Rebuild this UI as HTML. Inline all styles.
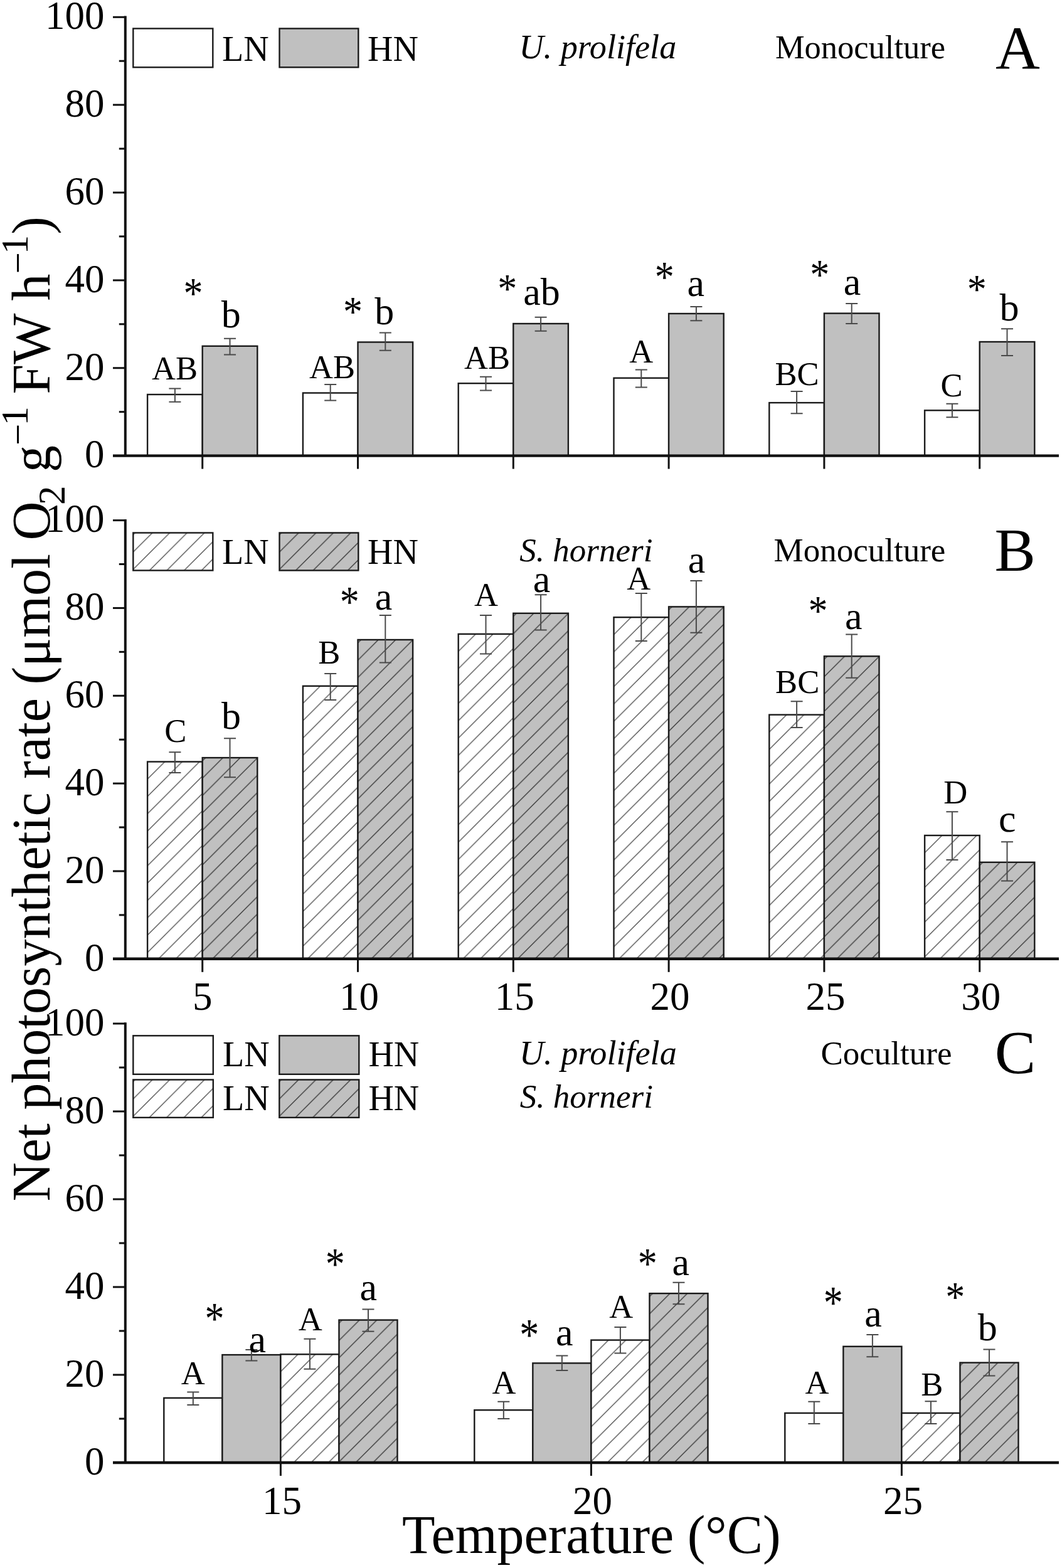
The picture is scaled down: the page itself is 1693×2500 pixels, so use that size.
<!DOCTYPE html>
<html><head><meta charset="utf-8"><title>Net photosynthetic rate</title><style>html,body{margin:0;padding:0;background:#fff;}svg{display:block;}</style></head><body>
<svg width="1693" height="2500" viewBox="0 0 1693 2500" font-family='"Liberation Serif", "Times New Roman", serif'>
<defs>
<pattern id="p0" patternUnits="userSpaceOnUse" x="235.10" y="1214.50" width="27.65" height="27.65"><rect width="27.65" height="27.65" fill="#fff"/><path d="M-2 29.65L29.65 -2M-2 2L2 -2M25.65 29.65L29.65 25.65" stroke="#4a4a4a" stroke-width="1.35"/></pattern>
<pattern id="p1" patternUnits="userSpaceOnUse" x="327.70" y="1208.10" width="27.65" height="27.65"><rect width="27.65" height="27.65" fill="#c0c0c0"/><path d="M-2 29.65L29.65 -2M-2 2L2 -2M25.65 29.65L29.65 25.65" stroke="#333" stroke-width="1.35"/></pattern>
<pattern id="p2" patternUnits="userSpaceOnUse" x="482.90" y="1093.80" width="27.65" height="27.65"><rect width="27.65" height="27.65" fill="#fff"/><path d="M-2 29.65L29.65 -2M-2 2L2 -2M25.65 29.65L29.65 25.65" stroke="#4a4a4a" stroke-width="1.35"/></pattern>
<pattern id="p3" patternUnits="userSpaceOnUse" x="575.50" y="1020.00" width="27.65" height="27.65"><rect width="27.65" height="27.65" fill="#c0c0c0"/><path d="M-2 29.65L29.65 -2M-2 2L2 -2M25.65 29.65L29.65 25.65" stroke="#333" stroke-width="1.35"/></pattern>
<pattern id="p4" patternUnits="userSpaceOnUse" x="730.70" y="1010.90" width="27.65" height="27.65"><rect width="27.65" height="27.65" fill="#fff"/><path d="M-2 29.65L29.65 -2M-2 2L2 -2M25.65 29.65L29.65 25.65" stroke="#4a4a4a" stroke-width="1.35"/></pattern>
<pattern id="p5" patternUnits="userSpaceOnUse" x="823.30" y="977.80" width="27.65" height="27.65"><rect width="27.65" height="27.65" fill="#c0c0c0"/><path d="M-2 29.65L29.65 -2M-2 2L2 -2M25.65 29.65L29.65 25.65" stroke="#333" stroke-width="1.35"/></pattern>
<pattern id="p6" patternUnits="userSpaceOnUse" x="978.50" y="984.20" width="27.65" height="27.65"><rect width="27.65" height="27.65" fill="#fff"/><path d="M-2 29.65L29.65 -2M-2 2L2 -2M25.65 29.65L29.65 25.65" stroke="#4a4a4a" stroke-width="1.35"/></pattern>
<pattern id="p7" patternUnits="userSpaceOnUse" x="1071.10" y="967.40" width="27.65" height="27.65"><rect width="27.65" height="27.65" fill="#c0c0c0"/><path d="M-2 29.65L29.65 -2M-2 2L2 -2M25.65 29.65L29.65 25.65" stroke="#333" stroke-width="1.35"/></pattern>
<pattern id="p8" patternUnits="userSpaceOnUse" x="1226.30" y="1139.60" width="27.65" height="27.65"><rect width="27.65" height="27.65" fill="#fff"/><path d="M-2 29.65L29.65 -2M-2 2L2 -2M25.65 29.65L29.65 25.65" stroke="#4a4a4a" stroke-width="1.35"/></pattern>
<pattern id="p9" patternUnits="userSpaceOnUse" x="1318.90" y="1046.30" width="27.65" height="27.65"><rect width="27.65" height="27.65" fill="#c0c0c0"/><path d="M-2 29.65L29.65 -2M-2 2L2 -2M25.65 29.65L29.65 25.65" stroke="#333" stroke-width="1.35"/></pattern>
<pattern id="p10" patternUnits="userSpaceOnUse" x="1474.10" y="1332.00" width="27.65" height="27.65"><rect width="27.65" height="27.65" fill="#fff"/><path d="M-2 29.65L29.65 -2M-2 2L2 -2M25.65 29.65L29.65 25.65" stroke="#4a4a4a" stroke-width="1.35"/></pattern>
<pattern id="p11" patternUnits="userSpaceOnUse" x="1566.70" y="1374.80" width="27.65" height="27.65"><rect width="27.65" height="27.65" fill="#c0c0c0"/><path d="M-2 29.65L29.65 -2M-2 2L2 -2M25.65 29.65L29.65 25.65" stroke="#333" stroke-width="1.35"/></pattern>
<pattern id="p12" patternUnits="userSpaceOnUse" x="447.40" y="2159.30" width="27.65" height="27.65"><rect width="27.65" height="27.65" fill="#fff"/><path d="M-2 29.65L29.65 -2M-2 2L2 -2M25.65 29.65L29.65 25.65" stroke="#4a4a4a" stroke-width="1.35"/></pattern>
<pattern id="p13" patternUnits="userSpaceOnUse" x="545.45" y="2104.60" width="27.65" height="27.65"><rect width="27.65" height="27.65" fill="#c0c0c0"/><path d="M-2 29.65L29.65 -2M-2 2L2 -2M25.65 29.65L29.65 25.65" stroke="#333" stroke-width="1.35"/></pattern>
<pattern id="p14" patternUnits="userSpaceOnUse" x="942.40" y="2136.60" width="27.65" height="27.65"><rect width="27.65" height="27.65" fill="#fff"/><path d="M-2 29.65L29.65 -2M-2 2L2 -2M25.65 29.65L29.65 25.65" stroke="#4a4a4a" stroke-width="1.35"/></pattern>
<pattern id="p15" patternUnits="userSpaceOnUse" x="1040.45" y="2062.20" width="27.65" height="27.65"><rect width="27.65" height="27.65" fill="#c0c0c0"/><path d="M-2 29.65L29.65 -2M-2 2L2 -2M25.65 29.65L29.65 25.65" stroke="#333" stroke-width="1.35"/></pattern>
<pattern id="p16" patternUnits="userSpaceOnUse" x="1437.40" y="2253.00" width="27.65" height="27.65"><rect width="27.65" height="27.65" fill="#fff"/><path d="M-2 29.65L29.65 -2M-2 2L2 -2M25.65 29.65L29.65 25.65" stroke="#4a4a4a" stroke-width="1.35"/></pattern>
<pattern id="p17" patternUnits="userSpaceOnUse" x="1535.45" y="2172.60" width="27.65" height="27.65"><rect width="27.65" height="27.65" fill="#c0c0c0"/><path d="M-2 29.65L29.65 -2M-2 2L2 -2M25.65 29.65L29.65 25.65" stroke="#333" stroke-width="1.35"/></pattern>
<pattern id="p18" patternUnits="userSpaceOnUse" x="215.30" y="849.50" width="27.65" height="27.65"><rect width="27.65" height="27.65" fill="#fff"/><path d="M-2 29.65L29.65 -2M-2 2L2 -2M25.65 29.65L29.65 25.65" stroke="#4a4a4a" stroke-width="1.35"/></pattern>
<pattern id="p19" patternUnits="userSpaceOnUse" x="448.50" y="849.50" width="27.65" height="27.65"><rect width="27.65" height="27.65" fill="#c0c0c0"/><path d="M-2 29.65L29.65 -2M-2 2L2 -2M25.65 29.65L29.65 25.65" stroke="#333" stroke-width="1.35"/></pattern>
<pattern id="p20" patternUnits="userSpaceOnUse" x="215.30" y="1721.50" width="27.65" height="27.65"><rect width="27.65" height="27.65" fill="#fff"/><path d="M-2 29.65L29.65 -2M-2 2L2 -2M25.65 29.65L29.65 25.65" stroke="#4a4a4a" stroke-width="1.35"/></pattern>
<pattern id="p21" patternUnits="userSpaceOnUse" x="448.30" y="1721.50" width="27.65" height="27.65"><rect width="27.65" height="27.65" fill="#c0c0c0"/><path d="M-2 29.65L29.65 -2M-2 2L2 -2M25.65 29.65L29.65 25.65" stroke="#333" stroke-width="1.35"/></pattern>
</defs>
<rect width="1693" height="2500" fill="#fff"/>
<rect x="235.10" y="629.00" width="87.60" height="97.60" fill="#fff" stroke="#1a1a1a" stroke-width="2.4"/>
<rect x="322.70" y="551.80" width="87.60" height="174.80" fill="#c0c0c0" stroke="#1a1a1a" stroke-width="2.4"/>
<rect x="482.90" y="626.50" width="87.60" height="100.10" fill="#fff" stroke="#1a1a1a" stroke-width="2.4"/>
<rect x="570.50" y="545.50" width="87.60" height="181.10" fill="#c0c0c0" stroke="#1a1a1a" stroke-width="2.4"/>
<rect x="730.70" y="611.20" width="87.60" height="115.40" fill="#fff" stroke="#1a1a1a" stroke-width="2.4"/>
<rect x="818.30" y="516.00" width="87.60" height="210.60" fill="#c0c0c0" stroke="#1a1a1a" stroke-width="2.4"/>
<rect x="978.50" y="602.70" width="87.60" height="123.90" fill="#fff" stroke="#1a1a1a" stroke-width="2.4"/>
<rect x="1066.10" y="500.00" width="87.60" height="226.60" fill="#c0c0c0" stroke="#1a1a1a" stroke-width="2.4"/>
<rect x="1226.30" y="642.10" width="87.60" height="84.50" fill="#fff" stroke="#1a1a1a" stroke-width="2.4"/>
<rect x="1313.90" y="499.60" width="87.60" height="227.00" fill="#c0c0c0" stroke="#1a1a1a" stroke-width="2.4"/>
<rect x="1474.10" y="654.30" width="87.60" height="72.30" fill="#fff" stroke="#1a1a1a" stroke-width="2.4"/>
<rect x="1561.70" y="545.00" width="87.60" height="181.60" fill="#c0c0c0" stroke="#1a1a1a" stroke-width="2.4"/>
<path d="M269.40 619.50H288.40M278.90 619.50V640.80M269.40 640.80H288.40" stroke="#4a4a4a" stroke-width="2.0" fill="none"/>
<path d="M357.00 539.80H376.00M366.50 539.80V565.50M357.00 565.50H376.00" stroke="#4a4a4a" stroke-width="2.0" fill="none"/>
<path d="M517.20 613.10H536.20M526.70 613.10V638.60M517.20 638.60H536.20" stroke="#4a4a4a" stroke-width="2.0" fill="none"/>
<path d="M604.80 530.50H623.80M614.30 530.50V558.80M604.80 558.80H623.80" stroke="#4a4a4a" stroke-width="2.0" fill="none"/>
<path d="M765.00 600.80H784.00M774.50 600.80V622.40M765.00 622.40H784.00" stroke="#4a4a4a" stroke-width="2.0" fill="none"/>
<path d="M852.60 505.80H871.60M862.10 505.80V527.70M852.60 527.70H871.60" stroke="#4a4a4a" stroke-width="2.0" fill="none"/>
<path d="M1012.80 589.60H1031.80M1022.30 589.60V617.60M1012.80 617.60H1031.80" stroke="#4a4a4a" stroke-width="2.0" fill="none"/>
<path d="M1100.40 489.00H1119.40M1109.90 489.00V511.20M1100.40 511.20H1119.40" stroke="#4a4a4a" stroke-width="2.0" fill="none"/>
<path d="M1260.60 623.90H1279.60M1270.10 623.90V659.30M1260.60 659.30H1279.60" stroke="#4a4a4a" stroke-width="2.0" fill="none"/>
<path d="M1348.20 483.90H1367.20M1357.70 483.90V515.90M1348.20 515.90H1367.20" stroke="#4a4a4a" stroke-width="2.0" fill="none"/>
<path d="M1508.40 643.70H1527.40M1517.90 643.70V665.30M1508.40 665.30H1527.40" stroke="#4a4a4a" stroke-width="2.0" fill="none"/>
<path d="M1596.00 524.30H1615.00M1605.50 524.30V566.90M1596.00 566.90H1615.00" stroke="#4a4a4a" stroke-width="2.0" fill="none"/>
<text x="278.55" y="605.20" text-anchor="middle" font-size="52.6">AB</text>
<text x="368.25" y="522.30" text-anchor="middle" font-size="62">b</text>
<text x="529.45" y="602.70" text-anchor="middle" font-size="52.6">AB</text>
<text x="612.70" y="516.90" text-anchor="middle" font-size="62">b</text>
<text x="776.60" y="588.00" text-anchor="middle" font-size="52.6">AB</text>
<text x="863.50" y="486.40" text-anchor="middle" font-size="62">ab</text>
<text x="1022.35" y="578.00" text-anchor="middle" font-size="52.6">A</text>
<text x="1109.35" y="471.50" text-anchor="middle" font-size="62">a</text>
<text x="1270.55" y="613.90" text-anchor="middle" font-size="52.6">BC</text>
<text x="1358.40" y="469.50" text-anchor="middle" font-size="62">a</text>
<text x="1517.00" y="631.80" text-anchor="middle" font-size="52.6">C</text>
<text x="1609.10" y="511.20" text-anchor="middle" font-size="62">b</text>
<text transform="translate(308.00 490.73) scale(1 1.116)" text-anchor="middle" font-size="62">*</text>
<text transform="translate(562.45 518.86) scale(1 1.090)" text-anchor="middle" font-size="62">*</text>
<text transform="translate(808.80 482.18) scale(1 1.046)" text-anchor="middle" font-size="62">*</text>
<text transform="translate(1059.30 464.51) scale(1 1.121)" text-anchor="middle" font-size="62">*</text>
<text transform="translate(1306.80 459.62) scale(1 1.099)" text-anchor="middle" font-size="62">*</text>
<text transform="translate(1557.35 483.11) scale(1 1.059)" text-anchor="middle" font-size="62">*</text>
<line x1="199.8" y1="25.60" x2="199.8" y2="726.60" stroke="#111" stroke-width="4.0"/>
<line x1="180" y1="726.60" x2="199.8" y2="726.60" stroke="#111" stroke-width="3.0"/>
<text x="166.5" y="745.40" text-anchor="end" font-size="63">0</text>
<line x1="189.8" y1="656.67" x2="199.8" y2="656.67" stroke="#111" stroke-width="3.0"/>
<line x1="180" y1="586.74" x2="199.8" y2="586.74" stroke="#111" stroke-width="3.0"/>
<text x="166.5" y="605.54" text-anchor="end" font-size="63">20</text>
<line x1="189.8" y1="516.81" x2="199.8" y2="516.81" stroke="#111" stroke-width="3.0"/>
<line x1="180" y1="446.88" x2="199.8" y2="446.88" stroke="#111" stroke-width="3.0"/>
<text x="166.5" y="465.68" text-anchor="end" font-size="63">40</text>
<line x1="189.8" y1="376.95" x2="199.8" y2="376.95" stroke="#111" stroke-width="3.0"/>
<line x1="180" y1="307.02" x2="199.8" y2="307.02" stroke="#111" stroke-width="3.0"/>
<text x="166.5" y="325.82" text-anchor="end" font-size="63">60</text>
<line x1="189.8" y1="237.09" x2="199.8" y2="237.09" stroke="#111" stroke-width="3.0"/>
<line x1="180" y1="167.16" x2="199.8" y2="167.16" stroke="#111" stroke-width="3.0"/>
<text x="166.5" y="185.96" text-anchor="end" font-size="63">80</text>
<line x1="189.8" y1="97.23" x2="199.8" y2="97.23" stroke="#111" stroke-width="3.0"/>
<line x1="180" y1="27.30" x2="199.8" y2="27.30" stroke="#111" stroke-width="3.0"/>
<text x="166.5" y="46.10" text-anchor="end" font-size="63">100</text>
<line x1="180" y1="726.60" x2="1688" y2="726.60" stroke="#111" stroke-width="4.4"/>
<line x1="322.70" y1="726.60" x2="322.70" y2="747.60" stroke="#111" stroke-width="3.0"/>
<line x1="570.50" y1="726.60" x2="570.50" y2="747.60" stroke="#111" stroke-width="3.0"/>
<line x1="818.30" y1="726.60" x2="818.30" y2="747.60" stroke="#111" stroke-width="3.0"/>
<line x1="1066.10" y1="726.60" x2="1066.10" y2="747.60" stroke="#111" stroke-width="3.0"/>
<line x1="1313.90" y1="726.60" x2="1313.90" y2="747.60" stroke="#111" stroke-width="3.0"/>
<line x1="1561.70" y1="726.60" x2="1561.70" y2="747.60" stroke="#111" stroke-width="3.0"/>
<rect x="235.10" y="1214.50" width="87.60" height="314.30" fill="url(#p0)" stroke="#1a1a1a" stroke-width="2.4"/>
<rect x="322.70" y="1208.10" width="87.60" height="320.70" fill="url(#p1)" stroke="#1a1a1a" stroke-width="2.4"/>
<rect x="482.90" y="1093.80" width="87.60" height="435.00" fill="url(#p2)" stroke="#1a1a1a" stroke-width="2.4"/>
<rect x="570.50" y="1020.00" width="87.60" height="508.80" fill="url(#p3)" stroke="#1a1a1a" stroke-width="2.4"/>
<rect x="730.70" y="1010.90" width="87.60" height="517.90" fill="url(#p4)" stroke="#1a1a1a" stroke-width="2.4"/>
<rect x="818.30" y="977.80" width="87.60" height="551.00" fill="url(#p5)" stroke="#1a1a1a" stroke-width="2.4"/>
<rect x="978.50" y="984.20" width="87.60" height="544.60" fill="url(#p6)" stroke="#1a1a1a" stroke-width="2.4"/>
<rect x="1066.10" y="967.40" width="87.60" height="561.40" fill="url(#p7)" stroke="#1a1a1a" stroke-width="2.4"/>
<rect x="1226.30" y="1139.60" width="87.60" height="389.20" fill="url(#p8)" stroke="#1a1a1a" stroke-width="2.4"/>
<rect x="1313.90" y="1046.30" width="87.60" height="482.50" fill="url(#p9)" stroke="#1a1a1a" stroke-width="2.4"/>
<rect x="1474.10" y="1332.00" width="87.60" height="196.80" fill="url(#p10)" stroke="#1a1a1a" stroke-width="2.4"/>
<rect x="1561.70" y="1374.80" width="87.60" height="154.00" fill="url(#p11)" stroke="#1a1a1a" stroke-width="2.4"/>
<path d="M269.40 1199.20H288.40M278.90 1199.20V1232.00M269.40 1232.00H288.40" stroke="#4a4a4a" stroke-width="2.0" fill="none"/>
<path d="M357.00 1177.30H376.00M366.50 1177.30V1239.30M357.00 1239.30H376.00" stroke="#4a4a4a" stroke-width="2.0" fill="none"/>
<path d="M517.20 1074.00H536.20M526.70 1074.00V1116.00M517.20 1116.00H536.20" stroke="#4a4a4a" stroke-width="2.0" fill="none"/>
<path d="M604.80 981.00H623.80M614.30 981.00V1056.60M604.80 1056.60H623.80" stroke="#4a4a4a" stroke-width="2.0" fill="none"/>
<path d="M765.00 981.00H784.00M774.50 981.00V1042.60M765.00 1042.60H784.00" stroke="#4a4a4a" stroke-width="2.0" fill="none"/>
<path d="M852.60 948.30H871.60M862.10 948.30V1004.50M852.60 1004.50H871.60" stroke="#4a4a4a" stroke-width="2.0" fill="none"/>
<path d="M1012.80 946.10H1031.80M1022.30 946.10V1022.00M1012.80 1022.00H1031.80" stroke="#4a4a4a" stroke-width="2.0" fill="none"/>
<path d="M1100.40 926.00H1119.40M1109.90 926.00V1008.70M1100.40 1008.70H1119.40" stroke="#4a4a4a" stroke-width="2.0" fill="none"/>
<path d="M1260.60 1118.30H1279.60M1270.10 1118.30V1160.00M1260.60 1160.00H1279.60" stroke="#4a4a4a" stroke-width="2.0" fill="none"/>
<path d="M1348.20 1011.50H1367.20M1357.70 1011.50V1080.70M1348.20 1080.70H1367.20" stroke="#4a4a4a" stroke-width="2.0" fill="none"/>
<path d="M1508.40 1294.30H1527.40M1517.90 1294.30V1370.90M1508.40 1370.90H1527.40" stroke="#4a4a4a" stroke-width="2.0" fill="none"/>
<path d="M1596.00 1342.20H1615.00M1605.50 1342.20V1404.40M1596.00 1404.40H1615.00" stroke="#4a4a4a" stroke-width="2.0" fill="none"/>
<text x="279.80" y="1182.70" text-anchor="middle" font-size="52.6">C</text>
<text x="368.55" y="1162.00" text-anchor="middle" font-size="62">b</text>
<text x="524.70" y="1057.90" text-anchor="middle" font-size="52.6">B</text>
<text x="611.55" y="971.50" text-anchor="middle" font-size="62">a</text>
<text x="775.00" y="965.80" text-anchor="middle" font-size="52.6">A</text>
<text x="863.50" y="943.50" text-anchor="middle" font-size="62">a</text>
<text x="1018.35" y="940.40" text-anchor="middle" font-size="52.6">A</text>
<text x="1110.45" y="913.40" text-anchor="middle" font-size="62">a</text>
<text x="1271.20" y="1105.10" text-anchor="middle" font-size="52.6">BC</text>
<text x="1360.75" y="1003.40" text-anchor="middle" font-size="62">a</text>
<text x="1523.30" y="1280.50" text-anchor="middle" font-size="52.6">D</text>
<text x="1605.70" y="1326.00" text-anchor="middle" font-size="62">c</text>
<text transform="translate(557.35 982.83) scale(1 1.116)" text-anchor="middle" font-size="62">*</text>
<text transform="translate(1304.10 996.32) scale(1 1.099)" text-anchor="middle" font-size="62">*</text>
<line x1="199.8" y1="827.90" x2="199.8" y2="1528.80" stroke="#111" stroke-width="4.0"/>
<line x1="180" y1="1528.80" x2="199.8" y2="1528.80" stroke="#111" stroke-width="3.0"/>
<text x="166.5" y="1547.60" text-anchor="end" font-size="63">0</text>
<line x1="189.8" y1="1458.88" x2="199.8" y2="1458.88" stroke="#111" stroke-width="3.0"/>
<line x1="180" y1="1388.96" x2="199.8" y2="1388.96" stroke="#111" stroke-width="3.0"/>
<text x="166.5" y="1407.76" text-anchor="end" font-size="63">20</text>
<line x1="189.8" y1="1319.04" x2="199.8" y2="1319.04" stroke="#111" stroke-width="3.0"/>
<line x1="180" y1="1249.12" x2="199.8" y2="1249.12" stroke="#111" stroke-width="3.0"/>
<text x="166.5" y="1267.92" text-anchor="end" font-size="63">40</text>
<line x1="189.8" y1="1179.20" x2="199.8" y2="1179.20" stroke="#111" stroke-width="3.0"/>
<line x1="180" y1="1109.28" x2="199.8" y2="1109.28" stroke="#111" stroke-width="3.0"/>
<text x="166.5" y="1128.08" text-anchor="end" font-size="63">60</text>
<line x1="189.8" y1="1039.36" x2="199.8" y2="1039.36" stroke="#111" stroke-width="3.0"/>
<line x1="180" y1="969.44" x2="199.8" y2="969.44" stroke="#111" stroke-width="3.0"/>
<text x="166.5" y="988.24" text-anchor="end" font-size="63">80</text>
<line x1="189.8" y1="899.52" x2="199.8" y2="899.52" stroke="#111" stroke-width="3.0"/>
<line x1="180" y1="829.60" x2="199.8" y2="829.60" stroke="#111" stroke-width="3.0"/>
<text x="166.5" y="848.40" text-anchor="end" font-size="63">100</text>
<line x1="180" y1="1528.80" x2="1688" y2="1528.80" stroke="#111" stroke-width="4.4"/>
<line x1="322.70" y1="1528.80" x2="322.70" y2="1549.80" stroke="#111" stroke-width="3.0"/>
<line x1="570.50" y1="1528.80" x2="570.50" y2="1549.80" stroke="#111" stroke-width="3.0"/>
<line x1="818.30" y1="1528.80" x2="818.30" y2="1549.80" stroke="#111" stroke-width="3.0"/>
<line x1="1066.10" y1="1528.80" x2="1066.10" y2="1549.80" stroke="#111" stroke-width="3.0"/>
<line x1="1313.90" y1="1528.80" x2="1313.90" y2="1549.80" stroke="#111" stroke-width="3.0"/>
<line x1="1561.70" y1="1528.80" x2="1561.70" y2="1549.80" stroke="#111" stroke-width="3.0"/>
<text x="322.70" y="1610" text-anchor="middle" font-size="63">5</text>
<text x="572.50" y="1610" text-anchor="middle" font-size="63">10</text>
<text x="820.30" y="1610" text-anchor="middle" font-size="63">15</text>
<text x="1068.10" y="1610" text-anchor="middle" font-size="63">20</text>
<text x="1315.90" y="1610" text-anchor="middle" font-size="63">25</text>
<text x="1563.70" y="1610" text-anchor="middle" font-size="63">30</text>
<rect x="261.30" y="2228.90" width="93.05" height="103.10" fill="#fff" stroke="#1a1a1a" stroke-width="2.4"/>
<rect x="354.35" y="2160.10" width="93.05" height="171.90" fill="#c0c0c0" stroke="#1a1a1a" stroke-width="2.4"/>
<rect x="447.40" y="2159.30" width="93.05" height="172.70" fill="url(#p12)" stroke="#1a1a1a" stroke-width="2.4"/>
<rect x="540.45" y="2104.60" width="93.05" height="227.40" fill="url(#p13)" stroke="#1a1a1a" stroke-width="2.4"/>
<rect x="756.30" y="2248.20" width="93.05" height="83.80" fill="#fff" stroke="#1a1a1a" stroke-width="2.4"/>
<rect x="849.35" y="2173.40" width="93.05" height="158.60" fill="#c0c0c0" stroke="#1a1a1a" stroke-width="2.4"/>
<rect x="942.40" y="2136.60" width="93.05" height="195.40" fill="url(#p14)" stroke="#1a1a1a" stroke-width="2.4"/>
<rect x="1035.45" y="2062.20" width="93.05" height="269.80" fill="url(#p15)" stroke="#1a1a1a" stroke-width="2.4"/>
<rect x="1251.30" y="2253.00" width="93.05" height="79.00" fill="#fff" stroke="#1a1a1a" stroke-width="2.4"/>
<rect x="1344.35" y="2146.80" width="93.05" height="185.20" fill="#c0c0c0" stroke="#1a1a1a" stroke-width="2.4"/>
<rect x="1437.40" y="2253.00" width="93.05" height="79.00" fill="url(#p16)" stroke="#1a1a1a" stroke-width="2.4"/>
<rect x="1530.45" y="2172.60" width="93.05" height="159.40" fill="url(#p17)" stroke="#1a1a1a" stroke-width="2.4"/>
<path d="M298.32 2219.60H317.32M307.82 2219.60V2240.10M298.32 2240.10H317.32" stroke="#4a4a4a" stroke-width="2.0" fill="none"/>
<path d="M391.37 2152.00H410.37M400.87 2152.00V2169.40M391.37 2169.40H410.37" stroke="#4a4a4a" stroke-width="2.0" fill="none"/>
<path d="M484.42 2134.70H503.42M493.92 2134.70V2182.80M484.42 2182.80H503.42" stroke="#4a4a4a" stroke-width="2.0" fill="none"/>
<path d="M577.47 2087.50H596.47M586.97 2087.50V2122.70M577.47 2122.70H596.47" stroke="#4a4a4a" stroke-width="2.0" fill="none"/>
<path d="M793.32 2234.80H812.32M802.82 2234.80V2262.00M793.32 2262.00H812.32" stroke="#4a4a4a" stroke-width="2.0" fill="none"/>
<path d="M886.38 2161.40H905.38M895.88 2161.40V2184.90M886.38 2184.90H905.38" stroke="#4a4a4a" stroke-width="2.0" fill="none"/>
<path d="M979.42 2116.10H998.42M988.92 2116.10V2157.40M979.42 2157.40H998.42" stroke="#4a4a4a" stroke-width="2.0" fill="none"/>
<path d="M1072.48 2044.80H1091.48M1081.98 2044.80V2079.30M1072.48 2079.30H1091.48" stroke="#4a4a4a" stroke-width="2.0" fill="none"/>
<path d="M1288.33 2234.80H1307.33M1297.83 2234.80V2270.00M1288.33 2270.00H1307.33" stroke="#4a4a4a" stroke-width="2.0" fill="none"/>
<path d="M1381.38 2128.10H1400.38M1390.88 2128.10V2163.30M1381.38 2163.30H1400.38" stroke="#4a4a4a" stroke-width="2.0" fill="none"/>
<path d="M1474.43 2234.30H1493.43M1483.93 2234.30V2270.00M1474.43 2270.00H1493.43" stroke="#4a4a4a" stroke-width="2.0" fill="none"/>
<path d="M1567.48 2151.60H1586.48M1576.98 2151.60V2193.50M1567.48 2193.50H1586.48" stroke="#4a4a4a" stroke-width="2.0" fill="none"/>
<text x="307.65" y="2206.80" text-anchor="middle" font-size="52.6">A</text>
<text x="410.15" y="2156.10" text-anchor="middle" font-size="62">a</text>
<text x="494.85" y="2120.60" text-anchor="middle" font-size="52.6">A</text>
<text x="587.15" y="2072.60" text-anchor="middle" font-size="62">a</text>
<text x="803.40" y="2221.50" text-anchor="middle" font-size="52.6">A</text>
<text x="899.85" y="2145.40" text-anchor="middle" font-size="62">a</text>
<text x="990.20" y="2101.40" text-anchor="middle" font-size="52.6">A</text>
<text x="1085.30" y="2033.40" text-anchor="middle" font-size="62">a</text>
<text x="1302.60" y="2222.00" text-anchor="middle" font-size="52.6">A</text>
<text x="1392.10" y="2115.30" text-anchor="middle" font-size="62">a</text>
<text x="1485.75" y="2224.70" text-anchor="middle" font-size="52.6">B</text>
<text x="1574.20" y="2136.60" text-anchor="middle" font-size="62">b</text>
<text transform="translate(342.05 2126.35) scale(1 1.173)" text-anchor="middle" font-size="62">*</text>
<text transform="translate(534.15 2039.44) scale(1 1.156)" text-anchor="middle" font-size="62">*</text>
<text transform="translate(843.80 2151.75) scale(1 1.173)" text-anchor="middle" font-size="62">*</text>
<text transform="translate(1032.15 2037.72) scale(1 1.138)" text-anchor="middle" font-size="62">*</text>
<text transform="translate(1328.30 2101.94) scale(1 1.195)" text-anchor="middle" font-size="62">*</text>
<text transform="translate(1522.80 2089.60) scale(1 1.103)" text-anchor="middle" font-size="62">*</text>
<line x1="199.8" y1="1630.30" x2="199.8" y2="2332.00" stroke="#111" stroke-width="4.0"/>
<line x1="180" y1="2332.00" x2="199.8" y2="2332.00" stroke="#111" stroke-width="3.0"/>
<text x="166.5" y="2350.80" text-anchor="end" font-size="63">0</text>
<line x1="189.8" y1="2262.00" x2="199.8" y2="2262.00" stroke="#111" stroke-width="3.0"/>
<line x1="180" y1="2192.00" x2="199.8" y2="2192.00" stroke="#111" stroke-width="3.0"/>
<text x="166.5" y="2210.80" text-anchor="end" font-size="63">20</text>
<line x1="189.8" y1="2122.00" x2="199.8" y2="2122.00" stroke="#111" stroke-width="3.0"/>
<line x1="180" y1="2052.00" x2="199.8" y2="2052.00" stroke="#111" stroke-width="3.0"/>
<text x="166.5" y="2070.80" text-anchor="end" font-size="63">40</text>
<line x1="189.8" y1="1982.00" x2="199.8" y2="1982.00" stroke="#111" stroke-width="3.0"/>
<line x1="180" y1="1912.00" x2="199.8" y2="1912.00" stroke="#111" stroke-width="3.0"/>
<text x="166.5" y="1930.80" text-anchor="end" font-size="63">60</text>
<line x1="189.8" y1="1842.00" x2="199.8" y2="1842.00" stroke="#111" stroke-width="3.0"/>
<line x1="180" y1="1772.00" x2="199.8" y2="1772.00" stroke="#111" stroke-width="3.0"/>
<text x="166.5" y="1790.80" text-anchor="end" font-size="63">80</text>
<line x1="189.8" y1="1702.00" x2="199.8" y2="1702.00" stroke="#111" stroke-width="3.0"/>
<line x1="180" y1="1632.00" x2="199.8" y2="1632.00" stroke="#111" stroke-width="3.0"/>
<text x="166.5" y="1650.80" text-anchor="end" font-size="63">100</text>
<line x1="180" y1="2332.00" x2="1688" y2="2332.00" stroke="#111" stroke-width="4.4"/>
<line x1="447.40" y1="2332.00" x2="447.40" y2="2353.00" stroke="#111" stroke-width="3.0"/>
<line x1="942.40" y1="2332.00" x2="942.40" y2="2353.00" stroke="#111" stroke-width="3.0"/>
<line x1="1437.40" y1="2332.00" x2="1437.40" y2="2353.00" stroke="#111" stroke-width="3.0"/>
<text x="449.40" y="2414" text-anchor="middle" font-size="63">15</text>
<text x="944.40" y="2414" text-anchor="middle" font-size="63">20</text>
<text x="1439.40" y="2414" text-anchor="middle" font-size="63">25</text>
<rect x="212.30" y="45.50" width="127.00" height="61.80" fill="#fff" stroke="#1a1a1a" stroke-width="2.4"/>
<rect x="445.50" y="45.50" width="125.80" height="61.80" fill="#c0c0c0" stroke="#1a1a1a" stroke-width="2.4"/>
<text x="354.08" y="97.30" font-size="56">LN</text>
<text x="585.98" y="97.30" font-size="56">HN</text>
<text x="827.41" y="92.90" font-size="54.2" font-style="italic">U. prolifela</text>
<text x="1235.88" y="92.90" font-size="52.5">Monoculture</text>
<text x="1587.02" y="108.5" font-size="98">A</text>
<rect x="212.30" y="849.50" width="127.00" height="60.00" fill="url(#p18)" stroke="#1a1a1a" stroke-width="2.4"/>
<rect x="445.50" y="849.50" width="125.80" height="60.00" fill="url(#p19)" stroke="#1a1a1a" stroke-width="2.4"/>
<text x="354.08" y="898.50" font-size="56">LN</text>
<text x="585.98" y="898.50" font-size="56">HN</text>
<text x="828.36" y="894.50" font-size="53" font-style="italic">S. horneri</text>
<text x="1233.56" y="895.20" font-size="53">Monoculture</text>
<text x="1585.46" y="909.9" font-size="98">B</text>
<rect x="212.30" y="1651.30" width="127.50" height="61.50" fill="#fff" stroke="#1a1a1a" stroke-width="2.4"/>
<rect x="445.30" y="1651.30" width="127.00" height="61.50" fill="#c0c0c0" stroke="#1a1a1a" stroke-width="2.4"/>
<rect x="212.30" y="1721.50" width="127.50" height="60.30" fill="url(#p20)" stroke="#1a1a1a" stroke-width="2.4"/>
<rect x="445.30" y="1721.50" width="127.00" height="60.30" fill="url(#p21)" stroke="#1a1a1a" stroke-width="2.4"/>
<text x="355.08" y="1700.30" font-size="56">LN</text>
<text x="587.38" y="1700.30" font-size="56">HN</text>
<text x="355.08" y="1770.30" font-size="56">LN</text>
<text x="587.38" y="1770.30" font-size="56">HN</text>
<text x="827.91" y="1696.70" font-size="54.2" font-style="italic">U. prolifela</text>
<text x="828.86" y="1766.00" font-size="53" font-style="italic">S. horneri</text>
<text x="1308.43" y="1696.70" font-size="53">Coculture</text>
<text x="1585.68" y="1711" font-size="98">C</text>
<text x="640.95" y="2475.5" font-size="86">Temperature (°C)</text>
<text transform="translate(79.4 1915.49) rotate(-90)" font-size="86">Net photosynthetic rate (μmol O<tspan font-size="61" dx="-5.5" dy="24">2</tspan><tspan dy="-24"> g</tspan><tspan font-size="61" dy="-30">−</tspan><tspan font-size="61" dx="-3" dy="-5">1</tspan><tspan dx="-2" dy="35"> FW h</tspan><tspan font-size="61" dy="-30">−</tspan><tspan font-size="61" dx="-3" dy="-5">1</tspan><tspan dx="1" dy="35">)</tspan></text>
</svg>
</body></html>
